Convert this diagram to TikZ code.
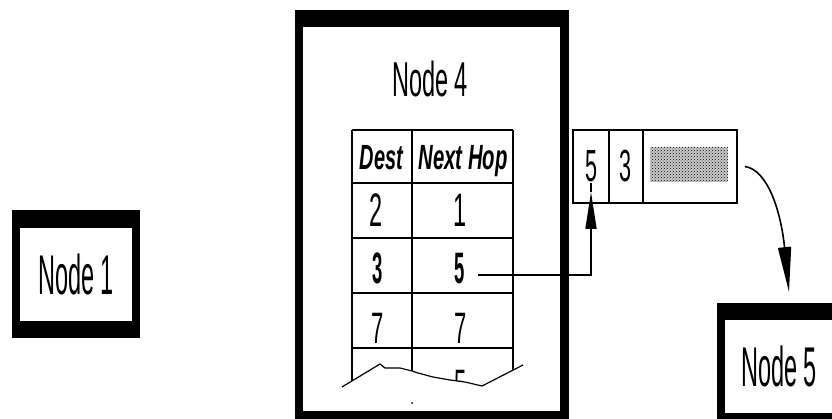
\documentclass[tikz,border=0pt]{standalone}
\usepackage{fontspec}
\setmainfont{Liberation Sans}
\usetikzlibrary{arrows.meta,patterns}
\newcommand{\cnd}[2]{\scalebox{#1}[1]{#2}}
\begin{document}
\begin{tikzpicture}[x=1pt,y=-1pt,
  outerbox/.style={fill=black, draw=none, inner sep=0pt, outer sep=0pt},
  innerbox/.style={fill=white, draw=none, inner sep=0pt, outer sep=0pt},
  cell/.style={draw=black, line width=2pt, inner sep=0pt, outer sep=0pt, minimum height=73pt},
  lbl/.style={inner sep=0pt, anchor=base},
  nodefont/.style={font=\fontsize{#1}{#1}\selectfont},
  tline/.style={line width=2pt},
  conn/.style={line width=1.6pt}]
\clip (0,0) rectangle (832,419);
\fill[white] (0,0) rectangle (832,419);

% Node 1
\node[outerbox, minimum width=128pt, minimum height=128pt] (n1o) at (76,274) {};
\node[innerbox, minimum width=112pt, minimum height=93pt, nodefont=56] (n1) at (76,274.5) {\cnd{0.42}{Node 1}};

% Node 4
\node[outerbox, minimum width=274pt, minimum height=418pt] (n4o) at (432,219) {};
\node[innerbox, minimum width=257pt, minimum height=384pt] (n4) at (431.5,219) {};
\node[lbl, nodefont=49] (n4t) at (430,97) {\cnd{0.48}{Node 4}};

% Node 5
\node[outerbox, minimum width=124pt, minimum height=128pt] (n5o) at (779,367) {};
\node[innerbox, minimum width=108pt, minimum height=93pt, nodefont=56] (n5) at (779,366.5) {\cnd{0.42}{Node 5}};

% routing table grid
\foreach \yy in {130,182.7,238,293,348} \draw[tline] (352,\yy) -- (513,\yy);
\draw[tline] (352,130) -- (352,381);
\draw[tline] (412,130) -- (412,371);
\draw[tline] (513,130) -- (513,370);
\draw[line width=1.2pt] (342,387) -- (380,364) -- (385,368) -- (400,368) -- (412,371) -- (418,373) -- (433,377) -- (450,380) -- (465,382) -- (482,386) -- (523,365);

% table texts
\node[lbl, nodefont=35] (hd) at (381.5,170) {\bfseries\itshape\cnd{0.57}{Dest}};
\node[lbl, nodefont=35] (hn) at (463,170) {\bfseries\itshape\cnd{0.58}{Next Hop}};
\node[lbl, nodefont=47] (t11) at (376,227) {\cnd{0.5}{2}};
\node[lbl, nodefont=47] (t12) at (460,227) {\cnd{0.5}{1}};
\node[lbl, nodefont=44] (t21) at (378,284) {\bfseries\cnd{0.42}{3}};
\node[lbl, nodefont=44] (t22) at (460,284) {\bfseries\cnd{0.42}{5}};
\node[lbl, nodefont=44] (t31) at (378,343) {\cnd{0.5}{7}};
\node[lbl, nodefont=44] (t32) at (461,343) {\cnd{0.5}{7}};
\begin{scope}
  \clip (352,349) -- (352,381) -- (380,364) -- (385,368) -- (400,368) -- (412,371) -- (418,373) -- (433,377) -- (450,380) -- (465,382) -- (482,386) -- (513,370) -- (513,349) -- cycle;
  \node[lbl, nodefont=44] (t42) at (461,400) {\cnd{0.5}{5}};
\end{scope}
\fill (412,403) circle[radius=1];

% packet
\node[cell, minimum width=36pt] (c1) at (591,166.5) {};
\node[cell, minimum width=34pt] (c2) at (626,166.5) {};
\node[cell, minimum width=94pt] (c3) at (690,166.5) {};
\fill[gray!40] (650,147) rectangle (728,182);
\fill[pattern=crosshatch dots] (650,147) rectangle (728,182);
\node[lbl, nodefont=45] (p5) at (591,182) {\cnd{0.48}{5}};
\node[lbl, nodefont=45] (p3) at (625,182) {\cnd{0.48}{3}};

% connectors
\coordinate (a0) at (478,275);
\draw[conn, -{Triangle[length=37pt,width=11pt]}] (a0) -| ([yshift=11pt]c1.south);
\draw[conn] ([yshift=11pt]c1.south) -- ([yshift=20pt]c1.south);
\draw[conn, -{Triangle[length=45pt,width=13pt]}] ([xshift=8pt]c3.east) .. controls (768,170) and (781,212) .. ([xshift=10pt,yshift=11pt]n5o.north);
\end{tikzpicture}
\end{document}
